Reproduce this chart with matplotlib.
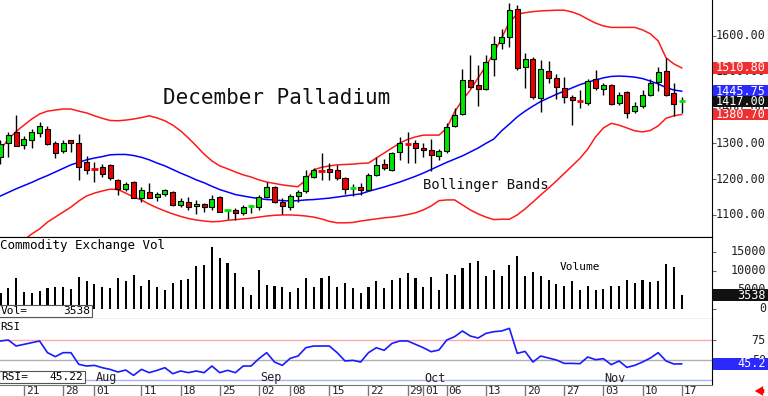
import numpy as np
import pandas as pd
import matplotlib
matplotlib.use("Agg")
import matplotlib.pyplot as plt
import matplotlib.transforms as mtransforms
from matplotlib.patches import Rectangle

MONO = "DejaVu Sans Mono"
W, H = 768, 396

# trading days Jul 16 - Nov 17 2025 (COMEX closed on Labor Day)
days = pd.bdate_range("2025-07-16", "2025-11-17")
days = days[days != pd.Timestamp("2025-09-01")]

opens = [1262, 1302, 1331, 1296, 1309, 1328, 1339, 1302, 1280, 1308,
         1300, 1247, 1232, 1235, 1239, 1198, 1173, 1192, 1147, 1165,
         1149, 1159, 1165, 1128, 1137, 1124, 1131, 1123, 1151, 1111,
         1114, 1105, 1122, 1121, 1151, 1177, 1137, 1123, 1154, 1168,
         1207, 1225, 1227, 1226, 1202, 1172, 1179, 1170, 1212, 1242,
         1226, 1277, 1300, 1300, 1287, 1282, 1265, 1280, 1349, 1382,
         1477, 1463, 1451, 1535, 1580, 1598, 1675, 1512, 1535, 1426,
         1503, 1482, 1454, 1429, 1421, 1412, 1479, 1451, 1463, 1414,
         1444, 1391, 1403, 1435, 1472, 1503, 1440, 1414]
highs = [1309, 1333, 1379, 1321, 1339, 1360, 1349, 1306, 1309, 1309,
         1325, 1265, 1248, 1242, 1242, 1200, 1193, 1194, 1179, 1189,
         1165, 1173, 1168, 1147, 1151, 1142, 1134, 1156, 1153, 1114,
         1120, 1128, 1128, 1156, 1193, 1181, 1147, 1159, 1170, 1226,
         1230, 1274, 1244, 1240, 1207, 1187, 1189, 1216, 1263, 1256,
         1277, 1319, 1333, 1309, 1300, 1311, 1284, 1356, 1398, 1507,
         1547, 1519, 1547, 1600, 1619, 1691, 1687, 1552, 1540, 1533,
         1531, 1494, 1485, 1435, 1449, 1479, 1505, 1470, 1466, 1444,
         1447, 1416, 1449, 1479, 1513, 1538, 1470, 1429]
lows = [1242, 1262, 1292, 1284, 1286, 1317, 1296, 1258, 1272, 1277,
        1198, 1214, 1192, 1207, 1198, 1156, 1167, 1146, 1137, 1146,
        1140, 1153, 1126, 1121, 1114, 1103, 1109, 1114, 1107, 1088,
        1085, 1100, 1106, 1114, 1147, 1134, 1103, 1114, 1137, 1161,
        1202, 1198, 1198, 1198, 1159, 1153, 1156, 1166, 1210, 1226,
        1224, 1254, 1245, 1244, 1261, 1224, 1254, 1274, 1347, 1379,
        1455, 1404, 1449, 1488, 1563, 1570, 1505, 1454, 1423, 1388,
        1468, 1423, 1412, 1351, 1398, 1407, 1449, 1435, 1407, 1407,
        1370, 1386, 1399, 1432, 1447, 1432, 1377, 1384]
closes = [1298, 1323, 1294, 1311, 1331, 1348, 1298, 1272, 1300, 1302,
          1235, 1226, 1229, 1214, 1202, 1172, 1186, 1148, 1170, 1148,
          1159, 1169, 1128, 1140, 1123, 1130, 1121, 1145, 1109, 1113,
          1105, 1123, 1125, 1151, 1177, 1137, 1125, 1153, 1165, 1209,
          1226, 1223, 1221, 1202, 1173, 1176, 1171, 1212, 1240, 1230,
          1274, 1300, 1298, 1288, 1281, 1268, 1279, 1345, 1379, 1477,
          1458, 1451, 1528, 1578, 1596, 1673, 1510, 1535, 1429, 1507,
          1482, 1457, 1429, 1421, 1419, 1475, 1454, 1463, 1410, 1435,
          1384, 1404, 1435, 1470, 1500, 1435, 1410, 1417]

upper_band = [1282, 1312, 1333, 1351, 1368, 1382, 1390, 1393, 1396, 1396,
              1390, 1385, 1377, 1370, 1364, 1363, 1365, 1368, 1372, 1377,
              1371, 1363, 1351, 1335, 1315, 1293, 1270, 1251, 1237, 1229,
              1220, 1212, 1206, 1198, 1192, 1188, 1184, 1181, 1179, 1198,
              1226, 1233, 1237, 1240, 1241, 1242, 1244, 1245, 1259, 1273,
              1287, 1301, 1311, 1318, 1323, 1323, 1323, 1343, 1388, 1421,
              1449, 1483, 1516, 1552, 1594, 1639, 1661, 1665, 1668, 1670,
              1671, 1672, 1672, 1667, 1659, 1647, 1636, 1628, 1624, 1624,
              1624, 1624, 1617, 1606, 1586, 1539, 1522, 1510.8]
mid_band = [1153, 1163, 1173, 1182, 1191, 1201, 1210, 1220, 1230, 1240,
            1247, 1254, 1259, 1263, 1268, 1269, 1269, 1266, 1261, 1254,
            1245, 1237, 1227, 1217, 1208, 1198, 1190, 1180, 1171, 1164,
            1157, 1153, 1149, 1146, 1143, 1142, 1140, 1139, 1140, 1142,
            1143, 1145, 1147, 1150, 1153, 1156, 1159, 1166, 1172, 1178,
            1185, 1192, 1200, 1208, 1217, 1227, 1237, 1247, 1256, 1265,
            1276, 1287, 1300, 1312, 1335, 1354, 1374, 1390, 1404, 1417,
            1427, 1437, 1446, 1455, 1464, 1471, 1477, 1483, 1487, 1488,
            1487, 1485, 1481, 1474, 1466, 1456, 1449, 1445.75]
lower_band = [974, 997, 1013, 1030, 1047, 1061, 1080, 1094, 1108, 1122,
              1139, 1153, 1161, 1167, 1172, 1171, 1161, 1150, 1142, 1130,
              1120, 1111, 1103, 1096, 1090, 1086, 1083, 1081, 1082, 1085,
              1087, 1089, 1091, 1094, 1097, 1099, 1100, 1100, 1099, 1097,
              1094, 1089, 1082, 1078, 1078, 1079, 1083, 1086, 1089, 1092,
              1094, 1097, 1101, 1106, 1114, 1125, 1140, 1142, 1142, 1128,
              1114, 1103, 1094, 1087, 1088, 1088, 1100, 1117, 1136, 1156,
              1175, 1195, 1216, 1237, 1258, 1284, 1318, 1343, 1356, 1351,
              1343, 1335, 1332, 1336, 1349, 1370, 1377, 1380.7]

volume = [4100, 5400, 8000, 4450, 4000, 4600, 5400, 5600, 5600, 5200,
          8400, 7200, 6500, 5600, 5300, 8000, 7200, 8900, 5900, 7450,
          5600, 4900, 6800, 7650, 7850, 11200, 11600, 16100, 13250, 12100,
          9450, 5800, 3650, 10100, 6250, 5850, 5600, 4450, 5300, 8100,
          5600, 8000, 8650, 5600, 6650, 5400, 4000, 5800, 7200, 5400,
          7400, 8100, 9300, 8100, 5600, 8400, 4950, 9150, 8900, 10650,
          12000, 12500, 8700, 10100, 8500, 11600, 13800, 8700, 9600, 8700,
          7600, 6500, 5900, 7200, 4950, 5850, 4900, 5200, 5850, 5850,
          7650, 6850, 7600, 7100, 7200, 11850, 10950, 3538]

rsi = [73.8, 75, 67.5, 69.6, 71.7, 73.8, 59.2, 54.2, 59.2, 59.2,
       44.6, 42.5, 43.3, 40.4, 38.3, 35, 37.5, 30.8, 38.3, 34.2,
       37.1, 40.4, 32.9, 36.3, 34.2, 36.3, 34.2, 42.5, 34.2, 37.1,
       34.2, 42.5, 42.5, 51.7, 59.2, 47.5, 43.3, 52.1, 55, 65.4,
       67.5, 67.5, 67.5, 59.2, 48.8, 49.6, 47.5, 59.2, 65.4, 62.1,
       70.8, 73.8, 73.8, 69.6, 65.4, 60.4, 62.5, 75, 79.2, 86.3,
       80, 77.5, 83.3, 85.4, 86.3, 89.6, 58.3, 60.8, 47.5, 55,
       52.5, 50, 45.8, 45.8, 45.4, 53.8, 50.4, 51.7, 44.2, 48.8,
       40.8, 43.3, 47.5, 52.5, 59.2, 48.8, 45, 45.22]

tick_dates = ["2025-07-21", "2025-07-28", "2025-08-01", "2025-08-11", "2025-08-18",
              "2025-08-25", "2025-09-02", "2025-09-08", "2025-09-15", "2025-09-22",
              "2025-09-29", "2025-10-01", "2025-10-06", "2025-10-13", "2025-10-20",
              "2025-10-27", "2025-11-03", "2025-11-10", "2025-11-17"]
month_labels = ["Aug", "Sep", "Oct", "Nov"]
month_dates = ["2025-08-01", "2025-09-02", "2025-10-01", "2025-11-03"]

price_ticks = [1100, 1200, 1300, 1400, 1500, 1600]
vol_ticks = [0, 5000, 10000, 15000]
rsi_ticks = [50, 75]

GREEN = "#00e600"
RED = "#ee0000"
BLUE = "#0000ff"


def px_axes(x0, y0, x1, y1):
    return fig.add_axes([x0 / W, 1 - y1 / H, (x1 - x0) / W, (y1 - y0) / H])


def right_label(ax, val, text, size=8.5):
    tr = mtransforms.blended_transform_factory(ax.transAxes, ax.transData)
    ax.text(766 / 712, val, text, transform=tr, ha="right", va="center",
            fontsize=size, family=MONO, color="#222222", clip_on=False, zorder=4)


def value_box(ax, val, text, color, h_px=11.5):
    tr = mtransforms.blended_transform_factory(ax.transAxes, ax.transData)
    y0, y1 = ax.get_ylim()
    h = h_px * (y1 - y0) / (ax.get_position().height * H)
    ax.add_patch(Rectangle((713 / 712, val - h / 2), 56 / 712, h, transform=tr,
                           fc=color, ec="none", clip_on=False, zorder=5))
    ax.text(766 / 712, val, text, transform=tr, ha="right", va="center",
            fontsize=8.5, family=MONO, color="white", clip_on=False, zorder=6)


def left_box(y_top, width, name, text):
    fig.add_artist(Rectangle((-1 / W, 1 - (y_top + 11.5) / H), (width + 1) / W, 11.5 / H,
                             transform=fig.transFigure, fc="white", ec="#555555", lw=0.8))
    fig.text(1 / W, 1 - (y_top + 6) / H, name, fontsize=8, family=MONO, va="center")
    fig.text((width - 2) / W, 1 - (y_top + 6) / H, text, fontsize=8, family=MONO,
             va="center", ha="right")


fig = plt.figure(figsize=(W / 100, H / 100), dpi=100)
ax_p = px_axes(0, 0, 712, 237.5)
ax_v = px_axes(0, 237.5, 712, 318.5)
ax_r = px_axes(0, 318.5, 712, 384.5)

x = np.arange(len(days))
o = np.array(opens, float)
c = np.array(closes, float)

for ax in (ax_p, ax_v, ax_r):
    ax.set_xlim(-0.06, 90.87)
    ax.set_xticks([])
    ax.spines["left"].set_visible(False)
    ax.yaxis.tick_right()
    ax.tick_params(axis="y", length=3, width=0.8, colors="#666666", labelright=False)
ax_p.spines["top"].set_visible(False)
ax_r.spines["top"].set_visible(False)
ax_r.spines["bottom"].set_color("#777777")

# ---- price panel
ax_p.set_ylim(1037, 1700.5)
ax_p.set_yticks(price_ticks)
ax_p.plot(x, upper_band, color="#ff1a1a", lw=1.1)
ax_p.plot(x, lower_band, color="#ff1a1a", lw=1.1)
ax_p.plot(x, mid_band, color=BLUE, lw=1.1)

ax_p.vlines(x, lows, highs, color="black", lw=1, zorder=3)
body = np.abs(c - o) >= 4.5
col = np.where(c >= o, GREEN, RED)
ax_p.bar(x[body], (c - o)[body], bottom=o[body], width=0.64, color=col[body],
         edgecolor="black", linewidth=0.8, zorder=4)
ax_p.hlines(c[~body], x[~body] - 0.4, x[~body] + 0.4, color=col[~body], lw=2, zorder=4)

ax_p.text(163 / 712, 1 - 98 / 237.5, "December Palladium", transform=ax_p.transAxes,
          fontsize=15, family=MONO, va="center", color="#111111")
ax_p.text(423 / 712, 1 - 185 / 237.5, "Bollinger Bands", transform=ax_p.transAxes,
          fontsize=10, family=MONO, va="center", color="#111111")

for v in price_ticks:
    right_label(ax_p, v, f"{v:.2f}")
value_box(ax_p, upper_band[-1], f"{upper_band[-1]:.2f}", "#f03030")
value_box(ax_p, mid_band[-1], f"{mid_band[-1]:.2f}", "#2a2aff")
value_box(ax_p, closes[-1], f"{closes[-1]:.2f}", "#111111")
value_box(ax_p, lower_band[-1], f"{lower_band[-1]:.2f}", "#f03030")

# ---- volume panel
ax_v.set_ylim(-2610, 18720)
ax_v.set_yticks(vol_ticks)
ax_v.bar(x, volume, width=0.27, color="black")
ax_v.text(0, 1 - 8 / 81, "Commodity Exchange Vol", transform=ax_v.transAxes,
          fontsize=9, family=MONO, va="center")
ax_v.text(560 / 712, 1 - 29 / 81, "Volume", transform=ax_v.transAxes,
          fontsize=8, family=MONO, va="center")
for v in vol_ticks:
    right_label(ax_v, v, f"{v}")
value_box(ax_v, volume[-1], f"{volume[-1]}", "#111111")

# ---- RSI panel
ax_r.set_ylim(19.4, 101.9)
ax_r.set_yticks(rsi_ticks)
ax_r.axhline(75, color="#ffaaaa", lw=1)
ax_r.axhline(50, color="#b0b0b0", lw=1)
ax_r.axhline(25, color="#aab0ff", lw=1)
ax_r.plot(x, rsi, color="#1a1aff", lw=1.2)
ax_r.text(0, 1 - 9 / 66, "RSI", transform=ax_r.transAxes, fontsize=8,
          family=MONO, va="center")
for v in rsi_ticks:
    right_label(ax_r, v, f"{v}")
value_box(ax_r, rsi[-1], f"{rsi[-1]:.1f}", "#2a2aff")

day_pos = {d.strftime("%Y-%m-%d"): i for i, d in enumerate(days)}
tr_r = mtransforms.blended_transform_factory(ax_r.transData, ax_r.transAxes)
for lab, d in zip(month_labels, month_dates):
    ax_r.text(day_pos[d] + 0.15, 1 - 59.5 / 66, lab, transform=tr_r, fontsize=8.5,
              family=MONO, va="center", color="#222222")
for d in tick_dates:
    i = day_pos[d]
    ax_r.plot([i, i], [-0.025, -0.18], transform=tr_r, color="#777777", lw=1, clip_on=False)
    ax_r.text(i + 0.25, -0.1, pd.Timestamp(d).strftime("%d"), transform=tr_r,
              fontsize=8, family=MONO, va="center", color="#222222", clip_on=False)

left_box(305, 92, "Vol=", f"{volume[-1]}")
left_box(371, 85, "RSI=", f"{rsi[-1]:.2f}")

ax_r.annotate("", xy=(752, 5), xytext=(767, 5), xycoords="figure pixels",
              arrowprops=dict(arrowstyle="simple,head_width=0.7,head_length=0.6,tail_width=0.3",
                              color="red", lw=0))

fig.savefig("out.png", dpi=100)
